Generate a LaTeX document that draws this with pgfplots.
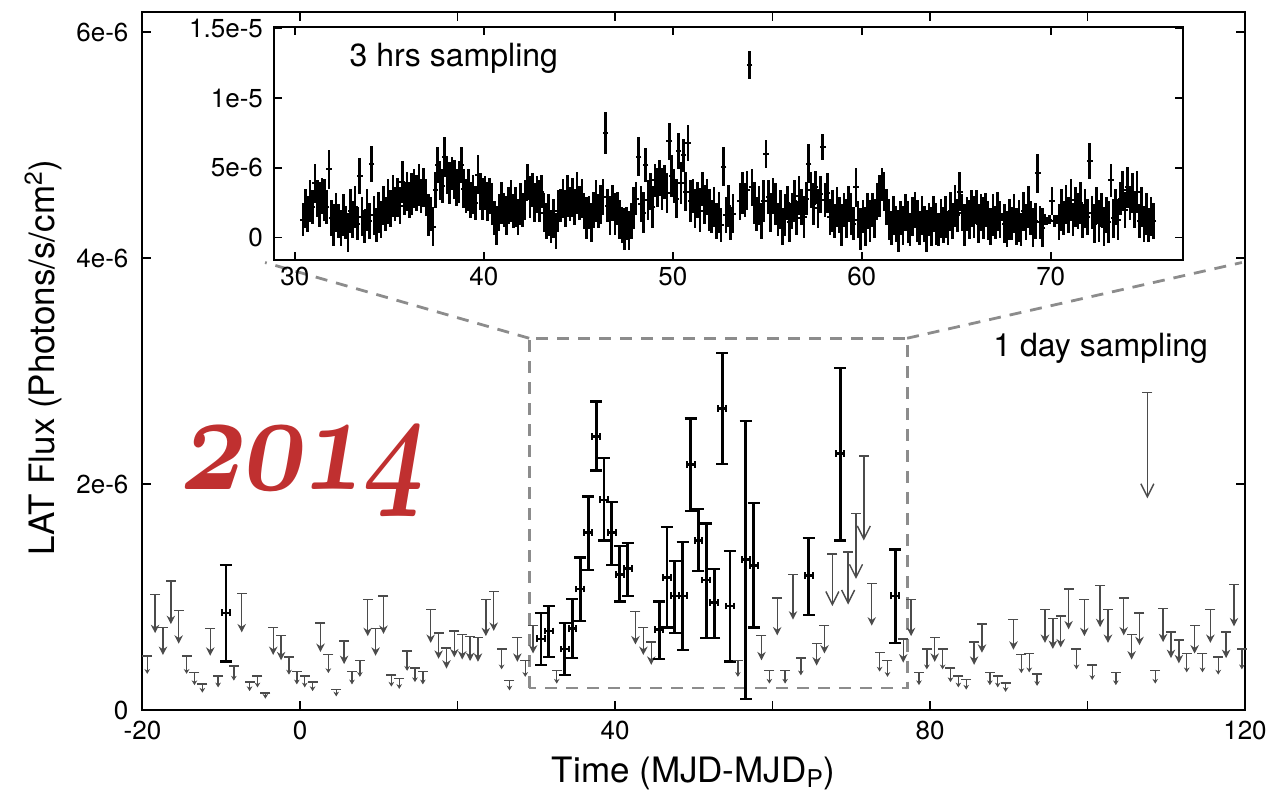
\documentclass[border=0pt]{standalone}
\usepackage{fontspec}
\setmainfont{TeX Gyre Heros}
\usepackage{pgfplots}
\usepackage{pgfplotstable}
\pgfplotsset{compat=1.18}
\usetikzlibrary{arrows.meta}
\definecolor{yr}{RGB}{192,48,48}
\definecolor{dashg}{RGB}{140,140,140}
\definecolor{ulg}{RGB}{75,75,75}

% upper limits (units of 1e-6), split by size for arrow-head size
\pgfplotstableread{
x u
-19.4 0.48
-14.4 0.48
-13.4 0.33
-12.4 0.23
-10.4 0.30
-8.4 0.39
-6.4 0.25
-5.4 0.30
-4.4 0.15
-1.4 0.47
-0.4 0.34
0.6 0.30
1.6 0.25
3.6 0.49
4.6 0.18
6.6 0.34
7.6 0.44
11.6 0.31
12.6 0.28
13.6 0.52
14.6 0.37
15.6 0.34
25.6 0.54
26.6 0.26
28.6 0.44
32.6 0.35
55.6 0.44
59.6 0.35
61.6 0.35
63.6 0.46
73.6 0.51
74.6 0.44
78.6 0.33
79.6 0.54
81.6 0.54
82.6 0.37
83.6 0.30
84.6 0.27
87.6 0.33
88.6 0.30
89.6 0.24
91.6 0.49
92.6 0.50
93.6 0.32
98.6 0.54
100.6 0.40
103.6 0.33
108.6 0.35
112.6 0.50
114.6 0.50
116.6 0.47
119.6 0.54
}\ulS
\pgfplotstableread{
x u
-18.4 1.02
-17.4 0.73
-16.4 1.14
-15.4 0.88
-11.4 0.72
-7.4 1.03
-3.4 0.73
-2.4 0.66
2.6 0.77
5.6 0.61
8.6 0.98
9.6 0.72
10.6 1.01
16.6 0.89
17.6 0.68
18.6 0.55
19.6 0.70
20.6 0.67
21.6 0.65
22.6 0.64
23.6 0.98
24.6 1.05
27.6 0.64
29.6 0.75
42.6 0.87
43.6 0.73
44.6 0.60
58.6 0.66
60.6 0.99
62.6 1.20
65.6 0.59
66.6 0.75
72.6 1.12
76.6 0.63
77.6 0.98
80.6 0.64
85.6 0.60
86.6 0.76
90.6 0.80
94.6 0.89
95.6 0.81
96.6 0.83
97.6 1.07
99.6 0.98
101.6 1.10
102.6 0.89
104.6 0.99
105.6 0.67
106.6 0.86
109.6 0.90
110.6 0.69
111.6 0.62
113.6 0.75
115.6 0.89
117.6 0.69
118.6 1.11
}\ulM
\pgfplotstableread{
x u
67.6 1.38
69.6 1.40
70.6 1.74
71.6 2.25
107.6 2.81
}\ulL
% detections: flux, upper and lower error (units of 1e-6)
\pgfplotstableread{
x y p m
-9.4 0.86 0.42 0.43
30.6 0.63 0.23 0.23
31.6 0.70 0.22 0.23
33.6 0.54 0.23 0.23
34.6 0.72 0.26 0.26
35.6 1.07 0.28 0.28
36.6 1.57 0.32 0.33
37.6 2.42 0.31 0.30
38.6 1.86 0.37 0.36
39.6 1.57 0.27 0.29
40.6 1.20 0.25 0.24
41.6 1.25 0.23 0.24
45.6 0.71 0.25 0.26
46.6 1.17 0.45 0.44
47.6 1.01 0.31 0.33
48.6 1.01 0.48 0.48
49.6 2.17 0.41 0.41
50.6 1.50 0.28 0.27
51.6 1.15 0.50 0.51
52.6 0.95 0.30 0.31
53.6 2.67 0.49 0.49
54.6 0.92 0.49 0.49
56.6 1.33 1.23 1.23
57.6 1.28 0.55 0.55
64.6 1.19 0.33 0.35
68.6 2.27 0.76 0.77
75.6 1.01 0.41 0.42
}\det
% 3-hour bins (units of 1e-6)
\pgfplotstableread{
x y e
30.4375 1.3 1.2
30.5625 2.1 1.4
30.6875 1.7 1.3
30.8125 2.6 1.5
30.9375 2.2 1.2
31.0625 3.9 1.4
31.1875 2.8 1.3
31.3125 2.4 1.6
31.4375 3.0 1.3
31.5625 2.7 1.5
31.6875 2.2 1.2
31.8125 4.9 1.4
31.9375 1.4 1.3
32.0625 0.9 1.5
32.1875 1.8 1.4
32.3125 1.2 1.2
32.4375 0.7 1.3
32.5625 1.6 1.5
32.6875 1.1 1.2
32.8125 0.4 1.4
32.9375 1.9 1.6
33.0625 1.3 1.3
33.1875 2.2 1.5
33.3125 1.0 1.2
33.4375 4.4 1.3
33.5625 1.5 1.4
33.6875 0.8 1.2
33.8125 2.0 1.5
33.9375 1.2 1.3
34.0625 5.3 1.3
34.1875 1.6 1.4
34.3125 0.9 1.2
34.4375 1.8 1.5
34.5625 1.3 1.3
34.6875 2.3 1.4
34.8125 1.7 1.2
34.9375 2.6 1.6
35.0625 2.1 1.3
35.1875 3.0 1.5
35.3125 2.4 1.2
35.4375 2.9 1.4
35.5625 2.3 1.3
35.6875 4.0 1.5
35.8125 2.8 1.2
35.9375 3.3 1.4
36.0625 2.7 1.3
36.1875 3.1 1.5
36.3125 3.5 1.4
36.4375 3.2 1.3
36.5625 3.8 1.5
36.6875 3.0 1.2
36.8125 3.6 1.4
36.9375 2.9 1.3
37.0625 1.6 1.5
37.1875 1.7 1.2
37.3125 0.8 1.4
37.4375 3.4 1.3
37.5625 5.2 1.3
37.6875 4.1 1.4
37.8125 3.7 1.2
37.9375 5.8 1.4
38.0625 4.4 1.3
38.1875 3.9 1.5
38.3125 4.6 1.2
38.4375 4.2 1.4
38.5625 3.6 1.3
38.6875 4.0 1.5
38.8125 5.2 1.3
38.9375 3.5 1.4
39.0625 3.0 1.2
39.1875 3.4 1.5
39.3125 2.7 1.3
39.4375 3.1 1.4
39.5625 2.5 1.2
39.6875 4.5 1.4
39.8125 3.3 1.3
39.9375 2.8 1.5
40.0625 3.2 1.2
40.1875 2.6 1.4
40.3125 3.0 1.3
40.4375 2.4 1.5
40.5625 1.4 1.2
40.6875 0.9 1.4
40.8125 1.8 1.3
40.9375 2.5 1.5
41.0625 2.0 1.2
41.1875 1.6 1.4
41.3125 2.3 1.3
41.4375 2.6 1.5
41.5625 1.9 1.2
41.6875 2.2 1.4
41.8125 1.5 1.3
41.9375 2.4 1.5
42.0625 2.0 1.2
42.1875 2.7 1.4
42.3125 4.0 1.3
42.4375 2.9 1.5
42.5625 3.4 1.2
42.6875 2.5 1.4
42.8125 3.1 1.3
42.9375 2.6 1.5
43.0625 3.3 1.2
43.1875 1.8 1.4
43.3125 1.2 1.3
43.4375 1.6 1.5
43.5625 0.8 1.2
43.6875 1.4 1.4
43.8125 0.5 1.3
43.9375 1.9 1.5
44.0625 2.3 1.2
44.1875 2.8 1.4
44.3125 2.1 1.3
44.4375 3.0 1.5
44.5625 2.4 1.2
44.6875 2.9 1.4
44.8125 2.2 1.3
44.9375 3.2 1.5
45.0625 2.5 1.2
45.1875 2.8 1.4
45.3125 1.9 1.3
45.4375 1.4 1.5
45.5625 1.8 1.2
45.6875 1.1 1.4
45.8125 2.0 1.3
45.9375 2.6 1.5
46.0625 1.9 1.2
46.1875 2.4 1.4
46.3125 2.9 1.3
46.4375 7.5 1.5
46.5625 2.3 1.2
46.6875 1.6 1.4
46.8125 2.5 1.3
46.9375 1.7 1.5
47.0625 2.1 1.2
47.1875 1.3 1.4
47.3125 0.9 1.3
47.4375 0.6 1.5
47.5625 1.0 1.2
47.6875 0.5 1.4
47.8125 1.2 1.3
47.9375 2.1 1.5
48.0625 2.8 1.2
48.1875 5.8 1.4
48.3125 2.4 1.3
48.4375 1.8 1.5
48.5625 5.2 1.2
48.6875 2.7 1.4
48.8125 3.3 1.3
48.9375 2.2 1.5
49.0625 4.1 1.2
49.1875 3.6 1.4
49.3125 4.3 1.3
49.4375 3.5 1.5
49.5625 4.0 1.2
49.6875 3.2 1.4
49.8125 6.9 1.3
49.9375 4.4 1.5
50.0625 3.7 1.2
50.1875 2.8 1.4
50.3125 6.2 1.3
50.4375 3.9 1.5
50.5625 5.9 1.2
50.6875 3.3 1.4
50.8125 6.8 1.3
50.9375 2.6 1.5
51.0625 3.0 1.2
51.1875 2.1 1.4
51.3125 2.7 1.3
51.4375 1.9 1.5
51.5625 3.5 1.2
51.6875 2.4 1.4
51.8125 2.9 1.3
51.9375 2.0 1.5
52.0625 1.5 1.2
52.1875 2.2 1.4
52.3125 1.2 1.3
52.4375 1.8 1.5
52.5625 0.9 1.2
52.6875 5.1 1.4
52.8125 1.6 1.3
52.9375 2.3 1.5
53.0625 1.0 1.2
53.1875 1.7 1.4
53.5625 2.6 1.3
53.6875 3.2 1.5
53.8125 2.7 1.2
53.9375 3.4 1.4
54.0625 12.4 1.0
54.1875 3.6 1.3
54.3125 2.5 1.5
54.4375 1.7 1.2
54.5625 2.3 1.4
54.6875 1.2 1.3
54.8125 2.6 1.5
54.9375 6.0 1.0
55.0625 2.9 1.2
55.1875 1.8 1.4
55.3125 3.0 1.3
55.4375 2.4 1.5
55.5625 1.3 1.2
55.6875 2.0 1.4
55.8125 0.8 1.3
55.9375 1.6 1.5
56.0625 2.5 1.2
56.1875 1.1 1.4
56.3125 1.9 1.3
56.4375 2.6 1.5
56.5625 1.4 1.2
56.6875 3.0 1.4
56.8125 2.2 1.3
56.9375 1.5 1.5
57.0625 2.8 1.2
57.1875 5.3 1.4
57.3125 3.4 1.3
57.4375 2.4 1.5
57.5625 3.6 1.2
57.6875 2.1 1.4
57.8125 3.1 1.3
57.9375 6.5 0.9
58.0625 2.7 1.2
58.1875 3.2 1.4
58.3125 1.5 1.3
58.4375 1.9 1.5
58.5625 1.2 1.2
58.6875 2.2 1.4
58.8125 1.6 1.3
58.9375 0.9 1.5
59.0625 2.0 1.2
59.1875 1.4 1.4
59.3125 2.4 1.3
59.4375 1.7 1.5
59.5625 1.0 1.2
59.6875 3.6 1.4
59.8125 1.3 1.3
59.9375 0.6 1.5
60.0625 1.5 1.2
60.1875 0.8 1.4
60.3125 1.9 1.3
60.4375 1.2 1.5
60.5625 2.0 1.2
60.6875 1.4 1.4
60.8125 2.6 1.3
60.9375 3.0 1.5
61.0625 3.8 1.2
61.1875 3.3 1.4
61.3125 2.2 1.3
61.4375 1.3 1.5
61.5625 0.7 1.2
61.6875 1.6 1.4
61.8125 1.0 1.3
61.9375 0.5 1.5
62.0625 1.4 1.2
62.1875 0.9 1.4
62.3125 1.8 1.3
62.4375 1.1 1.5
62.5625 0.6 1.2
62.6875 1.5 1.4
62.8125 2.0 1.3
62.9375 1.2 1.5
63.0625 0.7 1.2
63.1875 1.6 1.4
63.3125 1.0 1.3
63.4375 0.5 1.5
63.5625 1.3 1.2
63.6875 0.8 1.4
63.8125 1.7 1.3
63.9375 1.0 1.5
64.0625 0.6 1.2
64.1875 1.4 1.4
64.3125 0.9 1.3
64.4375 1.5 1.5
64.5625 0.7 1.2
64.6875 1.9 1.4
64.8125 1.2 1.3
64.9375 2.3 1.5
65.0625 1.6 1.2
65.1875 3.3 1.4
65.3125 1.8 1.3
65.4375 0.9 1.5
65.5625 1.7 1.2
65.6875 1.3 1.4
65.8125 2.1 1.3
65.9375 1.5 1.5
66.0625 2.2 1.2
66.1875 1.0 1.4
66.3125 1.8 1.3
66.4375 1.4 1.5
66.5625 2.0 1.2
66.6875 1.2 1.4
66.8125 0.8 1.3
66.9375 1.6 1.5
67.0625 1.1 1.2
67.1875 1.9 1.4
67.3125 1.3 1.3
67.4375 1.5 0.3
67.5625 1.0 1.4
67.6875 0.6 1.3
67.8125 1.3 1.5
67.9375 1.0 1.2
68.0625 1.7 1.4
68.1875 0.8 1.3
68.3125 1.2 1.5
68.4375 0.6 1.2
68.5625 1.9 1.4
68.6875 1.1 1.3
68.8125 2.2 1.5
68.9375 1.4 1.2
69.0625 0.7 1.4
69.1875 1.2 1.3
69.3125 4.6 1.4
69.4375 1.1 1.2
69.5625 0.7 1.4
69.6875 1.3 0.4
69.8125 1.2 0.3
69.9375 1.3 0.3
70.0625 2.6 1.0
70.1875 1.2 0.4
70.3125 1.3 0.3
70.4375 1.1 1.3
70.5625 2.0 1.5
70.6875 1.4 1.2
70.8125 2.4 1.4
70.9375 1.6 1.3
71.0625 2.7 1.5
71.1875 1.3 1.2
71.3125 2.2 1.4
71.4375 1.9 1.3
71.5625 2.5 1.5
71.6875 1.2 1.2
71.8125 2.1 1.4
71.9375 1.5 1.3
72.0625 5.5 1.3
72.1875 1.8 1.2
72.3125 1.0 1.4
72.4375 2.3 1.3
72.5625 1.2 1.5
72.6875 2.0 1.2
72.8125 0.8 1.4
72.9375 1.6 1.3
73.0625 1.1 1.5
73.1875 4.1 1.2
73.3125 1.4 1.4
73.4375 2.2 1.3
73.5625 1.3 1.5
73.6875 2.8 1.2
73.8125 3.4 1.4
73.9375 2.0 1.3
74.0625 3.6 1.5
74.1875 2.5 1.2
74.3125 3.2 1.4
74.4375 2.0 1.3
74.5625 3.3 1.5
74.6875 1.2 1.2
74.8125 2.2 1.4
74.9375 1.0 1.3
75.0625 1.7 1.5
75.1875 0.9 1.2
75.3125 1.5 1.4
75.4375 1.2 1.3
}\hrs

\begin{document}
\begin{tikzpicture}
\useasboundingbox (-71.25pt,-41.5pt) rectangle (564.75pt,355pt);
\begin{axis}[
  at={(0pt,0pt)}, anchor=south west,
  scale only axis, width=551.25pt, height=349pt,
  xmin=-20, xmax=120, ymin=0, ymax=6.177,
  axis line style={line width=1pt},
  tick pos=both, tick align=inside,
  major tick length=4.5pt,
  tick style={line width=0.8pt, black},
  xtick={-20,0,20,40,60,80,100,120},
  xticklabels={-20,0,,40,,80,,120},
  ytick={0,2,4,6},
  yticklabels={0,2e-6,4e-6,6e-6},
  tick label style={font=\fontsize{13}{15}\selectfont},
  yticklabel style={xshift=-3.5pt},
  xticklabel style={yshift=-2pt},
  xlabel={Time (MJD-MJD\textsubscript{P})},
  ylabel={LAT Flux (Photons/s/cm\textsuperscript{2})},
  label style={font=\fontsize{17.5}{20}\selectfont},
  xlabel style={at={(axis description cs:0.5,0)}, anchor=base, yshift=-36pt},
  ylabel style={at={(axis description cs:-0.0798,0.505)}, anchor=base},
  clip=false,
]
% zoom box and connector lines
\draw[dashg, line width=1.4pt, dash pattern=on 6pt off 4.5pt]
  (axis cs:29.1,0.195) rectangle (axis cs:77.1,3.29);
\draw[dashg, line width=1.4pt, dash pattern=on 6pt off 4.5pt]
  (axis cs:29.1,3.29) -- (axis cs:-4.44,3.96);
\draw[dashg, line width=1.4pt, dash pattern=on 6pt off 4.5pt]
  (axis cs:77.1,3.29) -- (axis cs:119.6,3.96);

% upper limits: arrows
\addplot[ulg, line width=0.7pt, quiver={u=0, v={-\thisrow{u}/3}},
  -{Stealth[length=2.4pt,width=2.8pt]}] table[x=x,y=u] {\ulS};
\addplot[ulg, line width=0.7pt, quiver={u=0, v={-\thisrow{u}/3}},
  -{Stealth[length=4.2pt,width=4.2pt]}] table[x=x,y=u] {\ulM};
\addplot[ulg, line width=0.7pt, quiver={u=0, v={-\thisrow{u}/3}},
  -{Straight Barb[length=6.5pt,width=6.5pt]}] table[x=x,y=u] {\ulL};
% upper limits: caps
\addplot[ulg, only marks, mark=-, mark size=2.5pt, mark options={line width=0.75pt}] table[x=x,y=u] {\ulS};
\addplot[ulg, only marks, mark=-, mark size=2.5pt, mark options={line width=0.75pt}] table[x=x,y=u] {\ulM};
\addplot[ulg, only marks, mark=-, mark size=2.5pt, mark options={line width=0.75pt}] table[x=x,y=u] {\ulL};

% detections
\addplot[black, only marks, mark size=0pt, mark=-,
  error bars/.cd, y dir=both, y explicit,
  error bar style={black, line width=1.4pt},
  error mark=-,
  error mark options={black, line width=1.1pt, mark size=3pt, rotate=90}]
  table[x=x, y=y, y error plus=p, y error minus=m] {\det};
\addplot[black, only marks, mark size=0pt, mark=-,
  error bars/.cd, x dir=both, x fixed=0.5,
  error bar style={black, line width=1.3pt},
  error mark=-,
  error mark options={black, line width=1pt, mark size=1.7pt, rotate=90}]
  table[x=x, y=y] {\det};

\node[anchor=base west, inner sep=0pt, text=yr, xscale=5.3, yscale=7.0, xslant=0.22]
  at (axis cs:-15.6,1.947) {\usefont{OML}{cmm}{b}{it}2014};
\node[anchor=base west, inner sep=0pt, font=\fontsize{16}{19}\selectfont]
  at (axis cs:88.0,3.124) {1 day sampling};
\end{axis}

\begin{axis}[
  at={(65.75pt,225pt)}, anchor=south west,
  scale only axis, width=454.5pt, height=116.5pt,
  xmin=28.9, xmax=77.0, ymin=-1.6, ymax=15.1,
  axis background/.style={fill=white},
  axis line style={line width=1pt},
  tick pos=both, tick align=inside,
  major tick length=4pt,
  tick style={line width=0.8pt, black},
  xtick={30,40,50,60,70},
  xticklabels={30,40,50,60,70},
  ytick={0,5,10,15},
  yticklabels={0,5e-6,1e-5,1.5e-5},
  tick label style={font=\fontsize{13}{15}\selectfont},
  yticklabel style={xshift=-2pt},
]
\addplot[black, only marks, mark=-, mark size=1.4pt,
  mark options={line width=1pt},
  error bars/.cd, y dir=both, y explicit, error mark=none,
  error bar style={black, line width=1.3pt}]
  table[x=x, y=y, y error=e] {\hrs};
\node[anchor=base west, inner sep=0pt, font=\fontsize{16}{19}\selectfont]
  at (axis cs:32.88,12.25) {3 hrs sampling};
\end{axis}
\end{tikzpicture}
\end{document}
